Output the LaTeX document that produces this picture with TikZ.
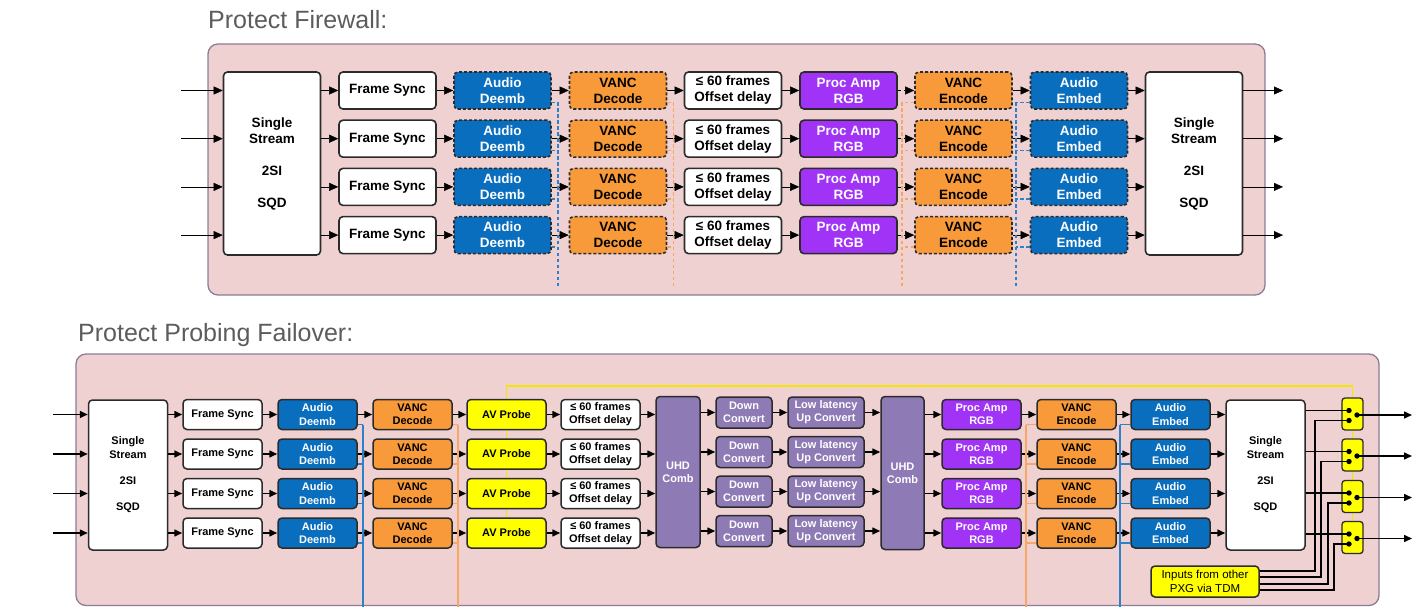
\documentclass[tikz,border=0pt]{standalone}
\usepackage{fontspec}
\setmainfont{Liberation Sans}
\usetikzlibrary{arrows.meta,calc,backgrounds}
\definecolor{panelpink}{HTML}{EFD1D1}
\definecolor{panelline}{HTML}{8C7C98}
\definecolor{audioblue}{HTML}{0A6EBF}
\definecolor{vancorange}{HTML}{F89A3A}
\definecolor{procpurple}{HTML}{A033F5}
\definecolor{uhdpurple}{HTML}{8E7BB6}
\definecolor{probeyellow}{HTML}{FFFF00}
\definecolor{boxline}{HTML}{2B2B2B}
\definecolor{bluewire}{HTML}{2D80CC}
\definecolor{orangewire}{HTML}{F6A766}
\definecolor{yellowwire}{HTML}{F5E600}
\definecolor{titlegray}{HTML}{5C5C5C}

\begin{document}
\begin{tikzpicture}[x=1pt, y=-1pt, >={Triangle[length=9pt,width=8pt]}, line width=1.6pt,
    block/.style={rectangle, rounded corners=4pt, draw=boxline, line width=1.6pt, align=center, inner sep=0pt,
        minimum width=97pt, minimum height=37pt, font=\bfseries\fontsize{13.5}{16}\selectfont},
    sblock/.style={block, line width=1.5pt, minimum width=79pt, minimum height=30pt, font=\bfseries\fontsize{11}{13.3}\selectfont},
    whitebox/.style={fill=white, text=black},
    audio/.style={fill=audioblue, text=white},
    vanc/.style={fill=vancorange, text=black},
    proc/.style={fill=procpurple, text=white},
    uhd/.style={fill=uhdpurple, text=white},
    probe/.style={fill=probeyellow, text=black},
    dashbox/.style={dash pattern=on 3pt off 2pt},
    switchbox/.style={rectangle, rounded corners=3pt, draw=boxline, line width=1.3pt, fill=probeyellow,
        minimum width=21pt, minimum height=32pt, inner sep=0pt},
    panel/.style={fill=panelpink, draw=panelline, line width=1.3pt, rounded corners=10pt},
    headline/.style={anchor=base west, inner sep=0pt, text=titlegray, font=\fontsize{25}{30}\selectfont},
    bluebus/.style={draw=bluewire, line width=1.6pt},
    orangebus/.style={draw=orangewire, line width=1.6pt},
    wiredash/.style={dash pattern=on 3.5pt off 2.5pt}
]
\useasboundingbox (0,0) rectangle (1428,607);

% panels
\begin{pgfonlayer}{background}
    \draw[panel] (208,44) rectangle (1265,295);
    \draw[panel] (76,354) rectangle (1379,605.5);
\end{pgfonlayer}

\node[headline] (title1) at (208,29) {Protect Firewall:};
\node[headline] (title2) at (78,341) {Protect Probing Failover:};

% Protect Firewall
\node[block, whitebox, minimum height=183pt] (tssl) at (272,163.5) {Single\\Stream\\[16pt]2SI\\[16pt]SQD};
\node[block, whitebox, minimum height=183pt] (tssr) at (1194,163.5) {Single\\Stream\\[16pt]2SI\\[16pt]SQD};

\foreach \i/\y in {1/90.5, 2/138.7, 3/186.9, 4/235.1}{
    \coordinate (tin\i) at (181,\y);
    \coordinate (tout\i) at (1283,\y);
    \node[block, whitebox] (tfs\i) at (387.5,\y) {Frame Sync};
    \node[block, audio, dashbox] (tad\i) at (502.5,\y) {Audio\\Deemb};
    \node[block, vanc, dashbox] (tvd\i) at (618,\y) {VANC\\Decode};
    \node[block, whitebox] (tod\i) at (733,\y) {≤ 60 frames\\Offset delay};
    \node[block, proc] (tpa\i) at (848.5,\y) {Proc Amp\\RGB};
    \node[block, vanc, dashbox] (tve\i) at (963.5,\y) {VANC\\Encode};
    \node[block, audio, dashbox] (tae\i) at (1079,\y) {Audio\\Embed};

    \draw[->] (tin\i) -- (tssl.west |- tin\i);
    \draw[->] (tssl.east |- tfs\i) -- (tfs\i);
    \draw[->] (tfs\i) -- (tad\i);
    \draw[->] (tad\i) -- (tvd\i);
    \draw[->] (tvd\i) -- (tod\i);
    \draw[->] (tod\i) -- (tpa\i);
    \draw[->, wiredash] (tpa\i) -- (tve\i);
    \draw[->] (tve\i) -- (tae\i);
    \draw[->] (tae\i) -- (tssr.west |- tae\i);
    \draw[->] (tssr.east |- tout\i) -- (tout\i);

    % side data taps
    \draw[bluebus, wiredash] ($(tad\i.east)+(0,12)$) -- ++(6,0);
    \draw[orangebus, wiredash] ($(tvd\i.east)+(0,12)$) -- ++(6,0);
    \draw[orangebus, wiredash] ($(tve\i.west)+(0,12)$) -- ++(-12,0);
    \draw[bluebus, wiredash] ($(tae\i.west)+(0,12)$) -- ++(-14,0);
}
\coordinate (tend) at (0,288);
\draw[bluebus, wiredash] ($(tad1.east)+(6,12)$) -- ($(tad1.east |- tend)+(6,0)$);
\draw[orangebus, wiredash] ($(tvd1.east)+(6,12)$) -- ($(tvd1.east |- tend)+(6,0)$);
\draw[orangebus, wiredash] ($(tve1.west)+(-12,12)$) -- ($(tve1.west |- tend)+(-12,0)$);
\draw[bluebus, wiredash] ($(tae1.west)+(-14,12)$) -- ($(tae1.west |- tend)+(-14,0)$);

% Protect Probing Failover
\begin{scope}[>={Triangle[length=8pt,width=7pt]}, line width=1.5pt]
\node[sblock, whitebox, minimum height=150pt] (bssl) at (128,475) {Single\\Stream\\[13pt]2SI\\[13pt]SQD};
\node[sblock, whitebox, minimum height=150pt] (bssr) at (1265.5,475) {Single\\Stream\\[13pt]2SI\\[13pt]SQD};
\node[sblock, uhd, minimum width=44pt, minimum height=151pt] (uhd1) at (678,472) {UHD\\Comb};
\node[sblock, uhd, minimum width=43pt, minimum height=153pt] (uhd2) at (902.5,473) {UHD\\Comb};
\node[sblock, probe, minimum width=108pt, minimum height=31pt, font=\fontsize{11.5}{13.5}\selectfont] (inp) at (1205,581.5) {Inputs from other\\PXG via TDM};

\foreach \i/\y/\s in {1/414.5/414, 2/454/455, 3/493.5/496.5, 4/533/537.5}{
    \coordinate (bin\i) at (53,\y);
    \node[sblock, whitebox] (bfs\i) at (222.5,\y) {Frame Sync};
    \node[sblock, audio] (bad\i) at (317.5,\y) {Audio\\Deemb};
    \node[sblock, vanc] (bvd\i) at (412.5,\y) {VANC\\Decode};
    \node[sblock, probe] (bap\i) at (506.5,\y) {AV Probe};
    \node[sblock, whitebox] (bod\i) at (600.5,\y) {≤ 60 frames\\Offset delay};
    \node[sblock, uhd, minimum width=56pt, minimum height=31pt] (bdc\i) at (744,\y-2) {Down\\Convert};
    \node[sblock, uhd, minimum width=76pt, minimum height=31pt] (bll\i) at (826,\y-2) {Low latency\\Up Convert};
    \node[sblock, proc] (bpa\i) at (981.5,\y) {Proc Amp\\RGB};
    \node[sblock, vanc] (bve\i) at (1076.5,\y) {VANC\\Encode};
    \node[sblock, audio] (bae\i) at (1170.5,\y) {Audio\\Embed};
    \node[switchbox] (sw\i) at (1352.5,\s) {};
    \coordinate (sw\i a) at ($(sw\i)+(-3.5,-3.5)$);
    \coordinate (sw\i b) at ($(sw\i)+(-3.5,6.5)$);
    \coordinate (sw\i c) at ($(sw\i)+(4.5,1)$);
    \coordinate (bout\i) at (1412,\s+1);

    \draw[->] (bin\i) -- (bssl.west |- bin\i);
    \draw[->] (bssl.east |- bfs\i) -- (bfs\i);
    \draw[->] (bfs\i) -- (bad\i);
    \draw[->] (bad\i) -- (bvd\i);
    \draw[->] (bvd\i) -- (bap\i);
    \draw[->] (bap\i) -- (bod\i);
    \draw[->] (bod\i) -- (uhd1.west |- bod\i);
    \draw[->] (uhd1.east |- bdc\i) -- (bdc\i);
    \draw[->] (bdc\i) -- (bll\i);
    \draw[->] (bll\i) -- (uhd2.west |- bll\i);
    \draw[->] (uhd2.east |- bpa\i) -- (bpa\i);
    \draw[->] (bpa\i) -- (bve\i);
    \draw[->] (bve\i) -- (bae\i);
    \draw[->] (bae\i) -- (bssr.west |- bae\i);

    % switch over
    \draw (bssr.east |- sw\i a) -- (sw\i a);
    \draw[->] (sw\i c) -- (bout\i);
    \fill (sw\i a) circle (2.7pt) (sw\i b) circle (2.7pt) (sw\i c) circle (2.7pt);

    % side data taps
    \draw[bluebus] ($(bad\i.east)+(0,10)$) -- ++(5,0);
    \draw[orangebus] ($(bvd\i.east)+(0,10)$) -- ++(5,0);
    \draw[orangebus] ($(bve\i.west)+(0,10)$) -- ++(-10,0);
    \draw[bluebus] ($(bae\i.west)+(0,10)$) -- ++(-10,0);
}
\coordinate (bend) at (0,607);
\draw[bluebus] ($(bad1.east)+(5,10)$) -- ($(bad1.east |- bend)+(5,0)$);
\draw[orangebus] ($(bvd1.east)+(5,10)$) -- ($(bvd1.east |- bend)+(5,0)$);
\draw[orangebus] ($(bve1.west)+(-10,10)$) -- ($(bve1.west |- bend)+(-10,0)$);
\draw[bluebus] ($(bae1.west)+(-10,10)$) -- ($(bae1.west |- bend)+(-10,0)$);

% TDM inputs
\foreach \i/\o/\xv in {1/-10.5/1315, 2/-4.5/1321, 3/2.5/1328, 4/8.5/1334}{
    \coordinate (tv\i) at (\xv,0);
    \draw ($(inp.east)+(0,\o)$) -| (tv\i |- sw\i b) -- (sw\i b);
}

% probe control
\coordinate (ytop) at (0,386);
\begin{pgfonlayer}{background}
    \draw[yellowwire, line width=1.4pt] (bap4.north) -- (bap1.north |- ytop) -| (sw4.north);
\end{pgfonlayer}
\end{scope}
\end{tikzpicture}
\end{document}
